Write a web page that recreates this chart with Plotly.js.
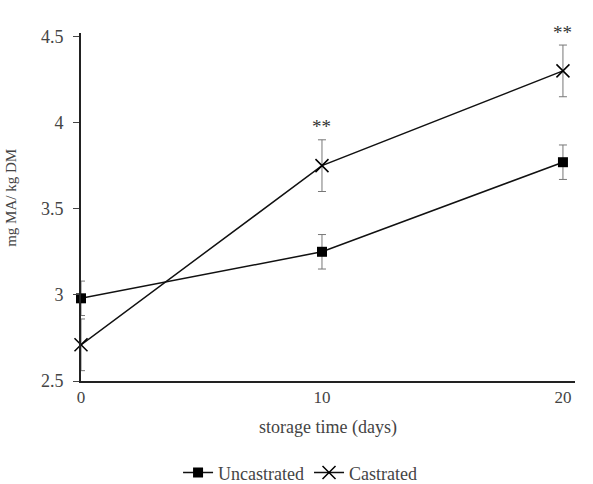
<!DOCTYPE html>
<html><head><meta charset="utf-8">
<script src="https://cdn.plot.ly/plotly-3.0.1.min.js"></script>
<style>body{margin:0;background:#fff}</style>
</head><body>
<div id="chart" style="width:593px;height:484px"></div>
<script>
const days = [0, 10, 20];
const uncastrated = [2.98, 3.25, 3.77];
const uncastratedErr = [0.1, 0.1, 0.1];
const castrated = [2.71, 3.75, 4.30];
const castratedErr = [0.15, 0.15, 0.15];
const sigLabels = ["", "**", "**"];
const yTicks = [2.5, 3, 3.5, 4, 4.5];
const yTickText = ["2.5", "3", "3.5", "4", "4.5"];

const fam = "Liberation Serif, Times New Roman, serif";
const font = {family: fam, color: "#444", size: 18};

const traces = [
  {x: days, y: uncastrated, name: "Uncastrated", mode: "lines+markers", type: "scatter",
   line: {color: "#111", width: 1.5}, marker: {symbol: "square", size: 10, color: "#000"},
   error_y: {type: "data", array: uncastratedErr, color: "#777", thickness: 1, width: 4},
   cliponaxis: false},
  {x: days, y: castrated, name: "Castrated", mode: "lines+markers", type: "scatter",
   line: {color: "#111", width: 1.5}, marker: {symbol: "x-thin-open", size: 13, color: "#000", line: {width: 1.5, color: "#000"}},
   error_y: {type: "data", array: castratedErr, color: "#777", thickness: 1, width: 4},
   cliponaxis: false}
];

const annotations = [];
days.forEach((d, i) => {
  if (sigLabels[i]) annotations.push({x: d, y: castrated[i] + castratedErr[i], yshift: 13, text: sigLabels[i],
    showarrow: false, font: {family: fam, size: 19, color: "#333"}});
});
annotations.push({xref: "paper", yref: "paper", x: -0.142, y: 0.526, xanchor: "center", yanchor: "middle",
  textangle: -90, showarrow: false, text: "mg MA/ kg DM", font: {family: fam, size: 15, color: "#444"}});

const layout = {
  width: 593, height: 484,
  margin: {l: 81, r: 18, t: 33, b: 103},
  paper_bgcolor: "#fff", plot_bgcolor: "#fff",
  font: font,
  showlegend: true,
  legend: {orientation: "h", x: 0.506, xref: "container", xanchor: "center", y: 0.023, yref: "container", yanchor: "middle",
    font: {family: fam, size: 18, color: "#444"}},
  xaxis: {range: [0, 20.5], tickvals: days, ticktext: days.map(String), showgrid: false, zeroline: false,
    showline: true, linecolor: "#222", linewidth: 2, ticks: "", ticklen: 0, tickfont: {family: fam, size: 17, color: "#444"},
    title: {text: "storage time (days)", font: {family: fam, size: 18, color: "#444"}, standoff: 14}},
  yaxis: {range: [2.5, 4.52], tickvals: yTicks, ticktext: yTickText, showgrid: false, zeroline: false,
    showline: true, linecolor: "#222", linewidth: 2, ticks: "outside", ticklen: 6, tickcolor: "#444",
    tickfont: {family: fam, size: 18, color: "#444"}, ticklabelstandoff: 6},
  annotations: annotations
};

Plotly.newPlot("chart", traces, layout, {displayModeBar: false, staticPlot: true});
</script>
</body></html>
